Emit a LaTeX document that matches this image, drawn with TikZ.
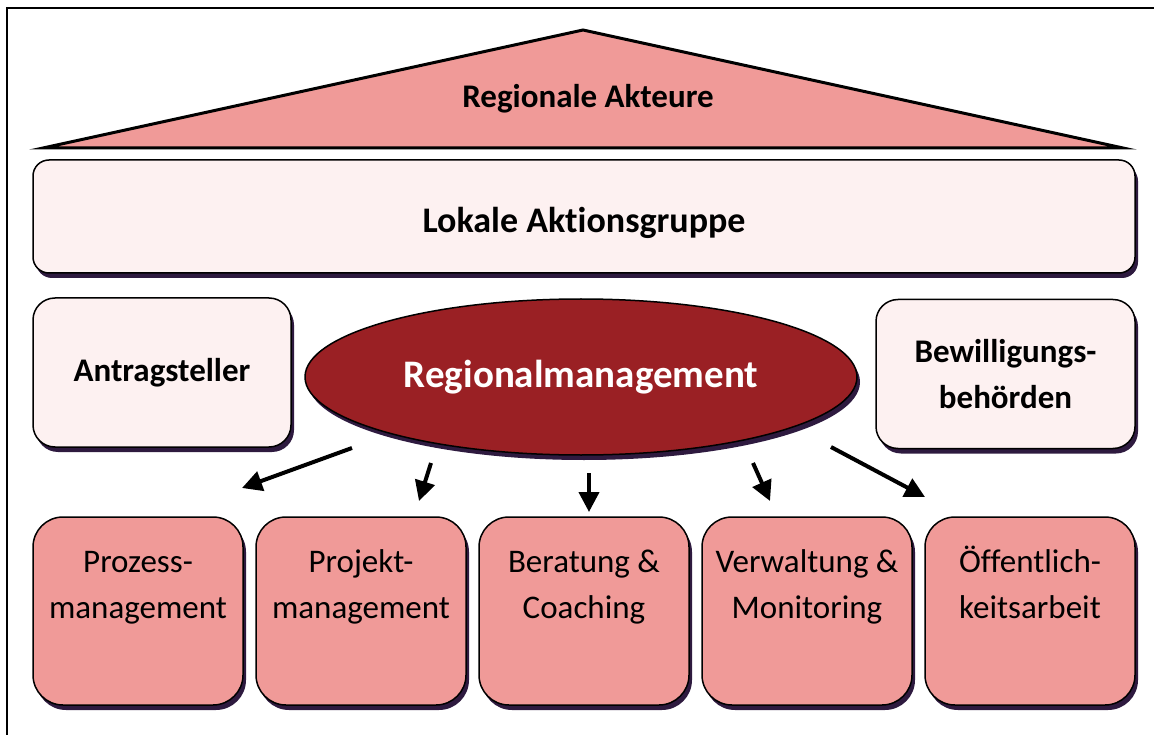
\documentclass[tikz,border=0pt]{standalone}
\usepackage{fontspec}
\setmainfont{Carlito}[Ligatures=NoCommon]
\usetikzlibrary{positioning, arrows.meta, shapes.geometric, shadows}

\definecolor{roof}{HTML}{F09A98}
\definecolor{pale}{HTML}{FDF1F1}
\definecolor{rmred}{HTML}{9A2024}
\definecolor{shade}{HTML}{2E1A3F}

\begin{document}
\begin{tikzpicture}[
  x=1pt, y=-1pt,
  font=\fontsize{33}{46}\selectfont,
  shad/.style={drop shadow={shadow xshift=3pt, shadow yshift=-5pt,
              fill=shade, opacity=1}},
  pbox/.style={draw, line width=1.5pt, fill=pale, rounded corners=22pt,
              shad, align=center, inner sep=0pt,
              font=\fontsize{33}{46}\selectfont\bfseries},
  tbox/.style={draw, line width=1.5pt, fill=roof, rounded corners=30pt,
              shad, minimum width=210pt, minimum height=188pt, inner sep=0pt},
  ttxt/.style={align=center, anchor=north, inner sep=0pt},
  ar/.style={-{Triangle[length=20pt, width=20pt]}, line width=4pt}
]
\useasboundingbox (0,0) rectangle (1154,735);
% frame, cut off right and below
\draw[line width=2pt] (7,745) |- (1165,8);

% roof
\draw[line width=3pt, fill=roof] (43,148) -- (583,30) -- (1123,148) -- cycle;
\node[font=\fontsize{33}{40}\selectfont\bfseries] (akteure) at (588,99)
  {Regionale Akteure};

\node[pbox, minimum width=1102pt, minimum height=113pt, rounded corners=16pt,
      font=\fontsize{36}{46}\selectfont\bfseries, text height=36pt, text depth=3pt]
  (lag) at (584,216.5) {Lokale Aktionsgruppe};
\node[pbox, minimum width=258pt, minimum height=149pt] (antrag) at (162,372.5)
  {Antragsteller};
\node[pbox, minimum width=259pt, minimum height=149pt] (bewill) at (1005.5,374)
  {Bewilligungs-\\behörden};
\node[ellipse, draw, line width=1.5pt, fill=rmred, shad, inner sep=0pt,
      minimum width=552pt, minimum height=156pt, text=white,
      font=\fontsize{39}{46}\selectfont\bfseries] (rm) at (581,377)
  {Regionalmanagement};

% tasks
\node[tbox] (prozess) at (138,611) {};
\node[tbox, right=11.5pt of prozess] (projekt) {};
\node[tbox, right=11.5pt of projekt] (beratung) {};
\node[tbox, right=11.5pt of beratung] (verwaltung) {};
\node[tbox, right=11.5pt of verwaltung] (oeffentl) {};
\node[ttxt] (prozess-t) at ([yshift=-24pt]prozess.north) {\strut Prozess-\\management};
\node[ttxt] (projekt-t) at ([yshift=-24pt]projekt.north) {\strut Projekt-\\management};
\node[ttxt] (beratung-t) at ([yshift=-24pt]beratung.north) {\strut Beratung \&\\Coaching};
\node[ttxt] (verwaltung-t) at ([yshift=-24pt]verwaltung.north) {\strut Verwaltung \&\\Monitoring};
\node[ttxt] (oeffentl-t) at ([yshift=-24pt]oeffentl.north) {\strut Öffentlich-\\keitsarbeit};

% arrows
\coordinate (s1) at (352,448); \coordinate (e1) at (242,488);
\coordinate (s2) at (431,463); \coordinate (e2) at (419,501);
\coordinate (s3) at (589,473); \coordinate (e3) at (589,512);
\coordinate (s4) at (753,463); \coordinate (e4) at (770,501);
\coordinate (s5) at (831,447); \coordinate (e5) at (925,497);
\draw[ar] (s1) -- (e1);
\draw[ar] (s2) -- (e2);
\draw[ar] (s3) -- (e3);
\draw[ar] (s4) -- (e4);
\draw[ar] (s5) -- (e5);
\end{tikzpicture}
\end{document}
